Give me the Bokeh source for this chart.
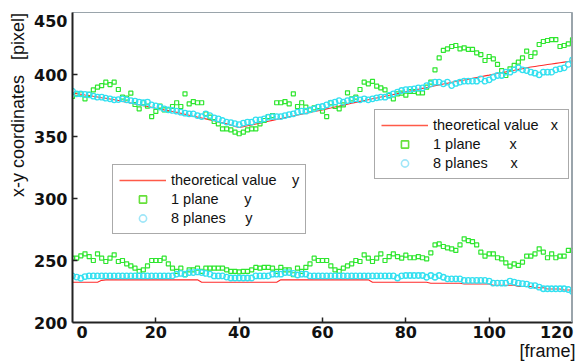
from bokeh.plotting import figure
from bokeh.models import Range1d, FixedTicker, Legend, LegendItem, Span
from bokeh.embed import file_html
from bokeh.resources import INLINE

# ---------------- data ----------------
frames = list(range(121))

theory_x = [385.2, 384.6, 384.1, 383.5, 383.0, 382.4, 381.9, 381.3, 380.8, 380.2,
            379.6, 379.0, 378.3, 377.6, 377.0, 376.3, 375.6, 374.9, 374.2, 373.5,
            372.8, 372.2, 371.5, 370.9, 370.2, 369.6, 368.8, 368.0, 367.2, 366.4,
            365.6, 364.9, 364.2, 363.4, 362.7, 362.0, 361.1, 360.2, 359.2, 358.1,
            357.2, 357.9, 358.6, 359.3, 360.1, 360.8, 361.5, 362.3, 363.0, 363.8,
            364.5, 365.2, 365.9, 366.6, 367.3, 368.0, 368.7, 369.4, 370.1, 370.8,
            371.5, 372.3, 373.0, 373.8, 374.5, 375.3, 376.0, 376.8, 377.5, 378.3,
            379.0, 379.7, 380.4, 381.1, 381.8, 382.5, 383.2, 383.9, 384.6, 385.3,
            386.0, 386.7, 387.4, 388.1, 388.8, 389.5, 390.2, 390.9, 391.6, 392.3,
            393.0, 393.7, 394.3, 395.0, 395.6, 396.3, 396.9, 397.6, 398.2, 398.9,
            399.5, 400.2, 400.8, 401.5, 402.1, 402.8, 403.4, 404.1, 404.7, 405.4,
            406.0, 406.5, 407.0, 407.5, 408.0, 408.5, 409.0, 409.5, 410.0, 410.5,
            411.0]

plane1_x = [382.3, 384.4, 384.4, 380.4, 383.9, 387.6, 389.8, 391.1, 393.8, 391.9,
            393.8, 387.9, 381.7, 380.9, 384.9, 375.8, 372.3, 377.2, 374.5, 366.1,
            370.2, 374.5, 371.5, 371.5, 374.2, 377.2, 374.2, 384.4, 376.3, 378.2,
            377.2, 377.2, 368.3, 365.6, 362.1, 360.2, 356.2, 356.2, 355.4, 353.5,
            352.2, 353.5, 355.4, 356.2, 356.2, 360.2, 362.9, 366.1, 366.9, 377.2,
            377.2, 378.2, 376.3, 384.4, 374.2, 377.2, 373.7, 371.5, 373.1, 374.2,
            370.4, 366.1, 377.2, 374.2, 372.3, 375.5, 385.2, 380.4, 381.7, 387.9,
            393.8, 392.5, 394.4, 390.6, 389.2, 387.6, 383.1, 380.4, 384.4, 384.9,
            383.3, 386.3, 386.3, 385.2, 385.2, 389.8, 393.8, 403.8, 413.4, 419.4,
            420.7, 422.6, 423.4, 420.7, 421.5, 420.2, 420.2, 417.5, 416.1, 411.3,
            414.5, 412.6, 408.1, 403.2, 399.2, 404.6, 407.3, 409.9, 413.4, 418.8,
            414.5, 417.5, 424.2, 426.6, 427.4, 428.2, 428.2, 422.6, 423.4, 424.7,
            428.0]

planes8_x = [386.6, 384.4, 384.4, 383.9, 383.6, 382.5, 381.7, 381.7, 380.9, 380.4,
             379.6, 379.8, 380.4, 379.6, 379.0, 378.5, 377.7, 377.2, 377.7, 375.5,
             374.7, 373.7, 372.3, 371.5, 371.0, 370.4, 369.6, 368.8, 368.3, 368.3,
             366.9, 366.1, 368.3, 366.9, 365.0, 364.2, 362.9, 361.6, 361.2, 360.4,
             359.6, 360.8, 361.6, 361.6, 363.4, 363.4, 364.2, 365.6, 366.1, 366.1,
             366.1, 366.9, 367.7, 368.3, 369.6, 370.4, 370.4, 371.5, 372.3, 373.7,
             374.2, 375.5, 376.9, 377.7, 379.0, 377.7, 379.0, 379.6, 380.4, 379.6,
             380.4, 379.6, 380.4, 381.2, 381.7, 381.7, 383.1, 384.4, 385.8, 387.1,
             387.8, 388.0, 388.4, 389.2, 389.2, 391.1, 392.5, 393.8, 393.8, 392.5,
             393.8, 391.1, 392.8, 393.8, 394.6, 394.6, 394.6, 394.6, 396.5, 394.6,
             395.7, 397.8, 399.2, 399.2, 401.9, 401.9, 403.8, 405.4, 403.8, 403.2,
             401.9, 401.1, 399.7, 401.9, 401.9, 401.9, 403.8, 404.6, 405.4, 408.1,
             411.8]

theory_y = [232.5, 232.5, 232.5, 232.5, 232.5, 232.5, 232.5, 234.0, 234.4, 234.4,
            234.4, 234.4, 234.4, 234.4, 234.4, 234.4, 234.4, 234.4, 234.4, 234.4,
            234.4, 234.4, 234.4, 234.4, 234.4, 234.4, 234.4, 234.4, 234.4, 234.4,
            234.4, 232.5, 232.5, 232.5, 232.5, 232.5, 232.5, 232.5, 232.5, 232.5,
            232.5, 232.5, 232.5, 232.5, 232.5, 232.5, 232.5, 232.5, 232.5, 232.5,
            234.4, 234.4, 234.4, 234.4, 234.4, 234.4, 234.4, 234.4, 234.4, 234.4,
            234.4, 234.4, 234.4, 234.4, 234.4, 234.4, 234.4, 234.4, 234.4, 234.4,
            234.4, 234.4, 232.5, 232.5, 232.5, 232.5, 232.5, 232.5, 232.5, 232.5,
            232.5, 232.5, 232.5, 232.5, 232.5, 232.5, 231.6, 231.6, 231.6, 231.6,
            231.6, 231.6, 231.6, 231.6, 231.0, 231.0, 231.0, 231.0, 231.0, 231.0,
            231.0, 230.0, 230.0, 230.0, 230.0, 230.0, 230.0, 229.0, 229.0, 229.0,
            229.0, 228.0, 228.0, 228.0, 227.0, 227.0, 227.0, 227.0, 226.2, 226.2,
            226.2]

plane1_y = [251.9, 251.9, 253.8, 255.4, 253.2, 250.0, 255.4, 251.9, 249.2, 251.9,
            254.6, 249.2, 250.0, 247.3, 245.7, 243.8, 241.2, 242.5, 245.7, 250.0,
            250.0, 250.0, 251.9, 247.3, 243.8, 241.2, 243.8, 238.5, 242.5, 242.5,
            243.8, 241.2, 243.8, 243.8, 243.8, 243.8, 243.8, 242.5, 241.2, 241.2,
            240.9, 241.2, 241.2, 242.5, 244.4, 243.8, 244.4, 244.4, 243.8, 241.2,
            244.4, 242.5, 242.5, 238.5, 243.8, 241.2, 244.4, 247.3, 251.9, 250.0,
            250.0, 250.0, 245.7, 242.5, 241.2, 243.8, 245.7, 247.3, 250.0, 249.2,
            254.6, 251.9, 249.2, 251.9, 255.4, 250.0, 253.2, 255.4, 253.2, 251.9,
            254.3, 252.2, 252.2, 253.2, 252.2, 251.3, 256.2, 262.6, 263.4, 261.3,
            260.2, 259.4, 258.1, 262.6, 267.5, 266.1, 265.3, 262.6, 256.7, 253.5,
            255.4, 255.4, 252.2, 251.3, 248.1, 245.4, 247.3, 246.0, 248.7, 253.5,
            253.5, 255.4, 259.4, 256.7, 252.2, 255.4, 252.2, 253.5, 253.5, 258.1,
            258.1]

planes8_y = [237.6, 236.6, 235.7, 237.0, 237.6, 237.6, 237.6, 237.6, 237.6, 237.6,
             237.6, 237.6, 237.6, 237.6, 237.6, 237.6, 237.6, 237.6, 237.6, 237.6,
             237.6, 237.6, 237.6, 237.6, 237.6, 239.0, 239.6, 239.0, 240.3, 240.3,
             240.8, 240.3, 239.6, 239.0, 237.6, 237.6, 237.6, 236.6, 235.9, 235.9,
             235.9, 235.9, 235.9, 235.9, 237.6, 237.6, 237.6, 237.6, 239.0, 239.0,
             239.0, 240.3, 240.3, 239.6, 238.3, 239.0, 239.0, 237.6, 237.6, 237.6,
             237.6, 237.6, 237.6, 237.6, 237.6, 237.6, 237.6, 237.6, 237.6, 237.6,
             237.6, 237.6, 237.6, 237.6, 237.6, 237.6, 237.6, 237.6, 235.9, 237.6,
             237.9, 237.9, 237.9, 237.9, 237.9, 236.5, 237.9, 236.5, 237.9, 236.5,
             235.2, 235.2, 235.2, 235.2, 233.9, 233.9, 233.9, 233.9, 233.9, 233.9,
             233.3, 231.7, 231.7, 231.7, 231.7, 233.3, 232.5, 231.7, 231.3, 231.0,
             229.8, 229.8, 228.5, 227.2, 227.2, 227.2, 227.2, 227.2, 227.2, 226.6,
             225.0]

x_tick_values = [0, 20, 40, 60, 80, 100, 120]
y_tick_values = [200, 250, 300, 350, 400, 450]

legend_x_labels = ["theoretical value\u00a0\u00a0\u00a0x\u00a0",
                   "1 plane\u2002\u2002\u2002\u2002x",
                   "8 planes\u2002\u2002\u00a0\u00a0x"]
legend_y_labels = ["theoretical value\u2002\u00a0\u00a0y",
                   "1 plane\u2002\u2002\u2002\u00a0y",
                   "8 planes\u2002\u00a0\u00a0\u00a0y"]

y_axis_text = "x-y coordinates\u00a0\u00a0\u00a0[pixel]"
x_axis_text = "[frame]"

# ---------------- styling ----------------
RED = "#ff2a2a"
GREEN = "#2ee62e"
CYAN = "#33e0f0"
LEG_RED = "#ff5a48"
LEG_GREEN = "#66e03a"
LEG_CYAN = "#9fe6f8"
FRAME_GRAY = "#9aa4ab"
AXIS_DARK = "#222222"
TEXT = "#111111"
NBSP = "\u00a0"
NAN = float("nan")

X0, X1 = 0, 120
Y0, Y1 = 200, 450

p = figure(width=579, height=363, x_range=Range1d(X0, X1), y_range=Range1d(Y0, Y1),
           output_backend="svg", toolbar_location=None,
           min_border_left=72, min_border_right=7, min_border_top=12, min_border_bottom=41)
p.background_fill_color = "white"
p.border_fill_color = "white"
p.xgrid.visible = False
p.ygrid.visible = False
p.outline_line_color = FRAME_GRAY
p.outline_line_width = 1

# tick labels: end labels are nudged inward like in the reference
x_label_pos = [v for v in x_tick_values]
x_label_pos[0] = X0 + 2.3
x_label_pos[-1] = X1 - 3.8
y_label_pos = [v for v in y_tick_values]
y_label_pos[-1] = Y1 - 6.5

p.xaxis.ticker = FixedTicker(ticks=x_label_pos, minor_ticks=x_tick_values[1:-1])
p.xaxis.major_label_overrides = {pos: str(v) for pos, v in zip(x_label_pos, x_tick_values)}
p.yaxis.ticker = FixedTicker(ticks=y_label_pos, minor_ticks=y_tick_values[1:-1])
p.yaxis.major_label_overrides = {pos: str(v) for pos, v in zip(y_label_pos, y_tick_values)}

for ax in (p.xaxis, p.yaxis):
    ax.axis_line_color = AXIS_DARK
    ax.axis_line_width = 2
    ax.major_tick_line_color = None
    ax.major_tick_in = 0
    ax.major_tick_out = 0
    ax.minor_tick_line_color = AXIS_DARK
    ax.minor_tick_line_width = 1.5
    ax.minor_tick_in = 5
    ax.minor_tick_out = 0
    ax.major_label_text_font = "DejaVu Sans"
    ax.major_label_text_font_style = "bold"
    ax.major_label_text_font_size = "16px"
    ax.major_label_text_color = TEXT
    ax.axis_label_text_font = "Liberation Sans"
    ax.axis_label_text_font_style = "normal"
    ax.axis_label_text_font_size = "18px"
    ax.axis_label_text_color = TEXT

p.xaxis.major_label_standoff = 3
p.yaxis.major_label_standoff = 5

# axis titles are end-aligned (right end / top end), padded with no-break spaces
p.yaxis.axis_label = NBSP * 25 + y_axis_text
p.yaxis.axis_label_standoff = 3
p.xaxis.axis_label = NBSP * 90 + x_axis_text
p.xaxis.axis_label_standoff = 0

# right border, thicker gray
p.add_layout(Span(location=X1, dimension="height", line_color=FRAME_GRAY, line_width=3))

# ---------------- glyphs ----------------
p.line(frames, theory_y, line_color=RED, line_width=1.1)
p.line(frames, theory_x, line_color=RED, line_width=1.1)
p.scatter(frames, plane1_x, marker="square", size=4, line_color=GREEN,
          line_width=1.2, fill_color=None)
p.scatter(frames, plane1_y, marker="square", size=4, line_color=GREEN,
          line_width=1.2, fill_color=None)
p.scatter(frames, planes8_x, marker="circle", size=5.5, line_color=CYAN,
          line_width=1.3, fill_color=None)
p.scatter(frames, planes8_y, marker="circle", size=5.5, line_color=CYAN,
          line_width=1.3, fill_color=None)

# legend swatches (not visible in the plot area: single NaN point)
def swatches():
    ln = p.line([X0], [NAN], line_color=LEG_RED, line_width=1.4)
    sq = p.scatter([X0], [NAN], marker="square", line_color=LEG_GREEN,
                   line_width=1.6, fill_color=None)
    ci = p.scatter([X0], [NAN], marker="circle", line_color=LEG_CYAN,
                   line_width=1.6, fill_color=None)
    return [ln, sq, ci]

def make_legend(labels, renderers, loc):
    leg = Legend(items=[LegendItem(label=l, renderers=[r]) for l, r in zip(labels, renderers)],
                 location=loc)
    leg.border_line_color = "#555555"
    leg.border_line_width = 1
    leg.background_fill_color = "white"
    leg.background_fill_alpha = 1.0
    leg.padding = 6
    leg.spacing = 1
    leg.margin = 0
    leg.glyph_width = 47
    leg.glyph_height = 18
    leg.label_height = 18
    leg.label_standoff = 5
    leg.label_text_font = "Liberation Sans"
    leg.label_text_font_size = "14.5px"
    leg.label_text_color = TEXT
    leg.label_text_baseline = "middle"
    return leg

p.add_layout(make_legend(legend_y_labels, swatches(), (40, 88)))
p.add_layout(make_legend(legend_x_labels, swatches(), (302, 143)))

open("out.html", "w").write(file_html(p, INLINE))
